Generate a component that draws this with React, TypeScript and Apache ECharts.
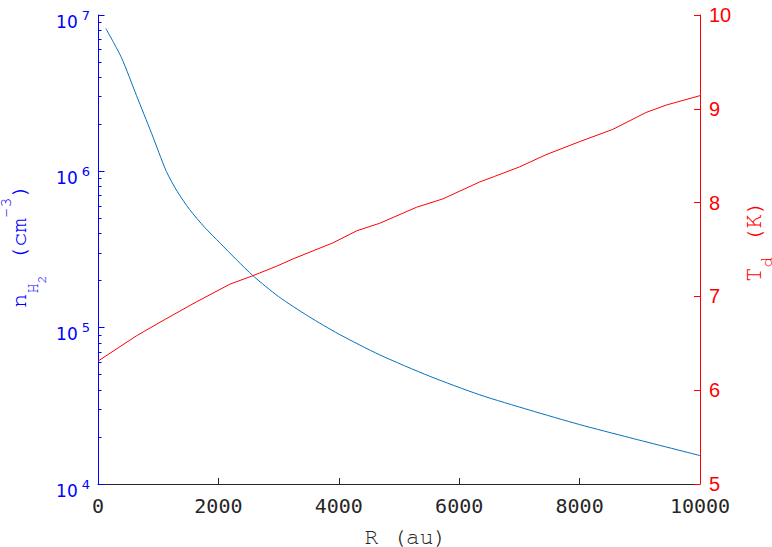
import React, { useEffect, useRef } from 'react';
import * as echarts from 'echarts';

// Density profile n_H2 (cm^-3) vs R (au)
const radiusDensity = [130, 390, 640, 890, 1135, 1320, 1520, 1770, 2030, 2300, 2580, 3000, 3500, 4000, 4680, 5510, 6340, 7170, 8000, 8830, 10000];
const densityH2 = [8.2e6, 5.33e6, 3.05e6, 1.75e6, 1.0e6, 7.4e5, 5.71e5, 4.39e5, 3.47e5, 2.72e5, 2.14e5, 1.58e5, 1.18e5, 9.1e4, 6.7e4, 4.89e4, 3.72e4, 2.97e4, 2.40e4, 1.98e4, 1.52e4];

// Dust temperature T_d (K) vs R (au)
const radiusTemp = [0, 640, 1100, 1630, 2190, 2570, 2960, 3240, 3900, 4300, 4680, 5290, 5730, 6340, 6590, 7000, 7440, 8000, 8550, 9100, 9440, 10000];
const dustTemp = [6.31, 6.58, 6.75, 6.94, 7.13, 7.22, 7.32, 7.40, 7.57, 7.70, 7.78, 7.95, 8.04, 8.22, 8.28, 8.38, 8.51, 8.65, 8.78, 8.96, 9.04, 9.14];

// Log-axis minor tick values
const minorTicks = [
  2e4, 3e4, 4e4, 5e4, 6e4, 7e4, 8e4, 9e4,
  2e5, 3e5, 4e5, 5e5, 6e5, 7e5, 8e5, 9e5,
  2e6, 3e6, 4e6, 5e6, 6e6, 7e6, 8e6, 9e6,
];

const BLUE = '#0000ff';
const RED = '#ff0000';
const DARK = '#262626';
const MONO = "'Nimbus Mono PS', 'FreeMono', 'Liberation Mono', 'Courier New', monospace";

export default function App() {
  const ref = useRef<HTMLDivElement>(null);

  useEffect(() => {
    const chart = echarts.init(ref.current!, null, { renderer: 'svg' });
    const titles: any[] = [
      {
        type: 'text',
        x: 406,
        y: 537,
        style: {
          text: 'R (au)',
          fontFamily: MONO,
          fontSize: 23,
          fill: DARK,
          textAlign: 'center',
          textVerticalAlign: 'middle',
          verticalAlign: 'middle',
        },
      },
      {
        type: 'group',
        x: 19,
        y: 308,
        rotation: Math.PI / 2,
        children: [
          {
            type: 'text',
            x: 0,
            y: 0,
            style: {
              text: '{m|n}{s|H}{ss|2}{m| (cm}{sup|-3}{m|)}',
              fill: BLUE,
              textAlign: 'left',
              textVerticalAlign: 'middle',
              verticalAlign: 'middle',
              rich: {
                m: { fontFamily: MONO, fontSize: 24, lineHeight: 24, padding: [18, 0, 18, 0] },
                s: { fontFamily: MONO, fontSize: 17, lineHeight: 17, padding: [35, 0, 8, 0] },
                ss: { fontFamily: MONO, fontSize: 13, lineHeight: 13, padding: [47, 0, 0, 0] },
                sup: { fontFamily: MONO, fontSize: 17, lineHeight: 10, padding: [11, 0, 39, 0] },
              },
            },
          },
        ],
      },
      {
        type: 'group',
        x: 754,
        y: 282,
        rotation: Math.PI / 2,
        children: [
          {
            type: 'text',
            x: 0,
            y: 0,
            style: {
              text: '{m|T}{s|d}{m| (K)}',
              fill: RED,
              textAlign: 'left',
              textVerticalAlign: 'middle',
              verticalAlign: 'middle',
              rich: {
                m: { fontFamily: MONO, fontSize: 24, lineHeight: 24, padding: [18, 0, 18, 0] },
                s: { fontFamily: MONO, fontSize: 17, lineHeight: 10, padding: [37.5, 0, 12.5, 0] },
              },
            },
          },
        ],
      },
    ];

    const option: any = {
      animation: false,
      backgroundColor: '#ffffff',
      grid: { left: 98, top: 8, width: 602, height: 476 },
      xAxis: {
        type: 'value',
        min: 0,
        max: 10000,
        interval: 2000,
        axisLine: { show: true, lineStyle: { color: DARK, width: 1 } },
        axisTick: { show: true, inside: true, length: 6, lineStyle: { color: DARK, width: 1 } },
        axisLabel: {
          color: DARK,
          fontFamily: 'DejaVu Sans Mono',
          fontSize: 20,
          margin: 12,
          formatter: (v: number) => String(v),
        },
        splitLine: { show: false },
      },
      yAxis: [
        {
          type: 'log',
          logBase: 10,
          min: 1e4,
          max: 1e7,
          position: 'left',
          z: 3,
          axisLine: { show: true, lineStyle: { color: BLUE, width: 1 } },
          axisTick: { show: true, inside: true, length: 6.5, lineStyle: { color: BLUE, width: 1 } },
          splitLine: { show: false },
          axisLabel: {
            margin: 8,
            formatter: (v: number) => `{b|10}{e|${Math.round(Math.log10(v))}}`,
            rich: {
              b: { fontFamily: 'DejaVu Sans', fontSize: 17, lineHeight: 17, color: BLUE, padding: [13, 0, 0, 0] },
              e: { fontFamily: 'DejaVu Sans', fontSize: 13, lineHeight: 13, color: BLUE, padding: [8.5, 0, 8.5, 4] },
            },
          },
        },
        {
          type: 'value',
          min: 5,
          max: 10,
          interval: 1,
          position: 'right',
          z: 3,
          axisLine: { show: true, lineStyle: { color: RED, width: 1 } },
          axisTick: { show: true, inside: true, length: 6, lineStyle: { color: RED, width: 1 } },
          splitLine: { show: false },
          axisLabel: { color: RED, fontFamily: "'Liberation Sans', Arial, sans-serif", fontSize: 20, margin: 9 },
        },
        {
          // minor ticks of the log axis
          type: 'log',
          logBase: 10,
          min: 1e4,
          max: 1e7,
          position: 'left',
          offset: 0,
          z: 3,
          axisLine: { show: false },
          axisLabel: { show: false },
          splitLine: { show: false },
          axisTick: {
            show: true,
            inside: true,
            length: 3.5,
            customValues: minorTicks,
            lineStyle: { color: BLUE, width: 1 },
          },
        },
      ],
      series: [
        {
          type: 'line',
          name: 'nH2',
          yAxisIndex: 0,
          data: radiusDensity.map((r, i) => [r, densityH2[i]]),
          symbol: 'none',
          smooth: 0.25,
          lineStyle: { color: '#0072BD', width: 1 },
          itemStyle: { color: '#0072BD' },
        },
        {
          type: 'line',
          name: 'Td',
          yAxisIndex: 1,
          data: radiusTemp.map((r, i) => [r, dustTemp[i]]),
          symbol: 'none',
          lineStyle: { color: RED, width: 1 },
          itemStyle: { color: RED },
        },
      ],
      graphic: titles,
    };
    chart.setOption(option);

    return () => chart.dispose();
  }, []);

  return (
    <div
      ref={ref}
      style={{ position: 'fixed', left: 0, top: 0, width: 772, height: 547, background: '#fff' }}
    />
  );
}
